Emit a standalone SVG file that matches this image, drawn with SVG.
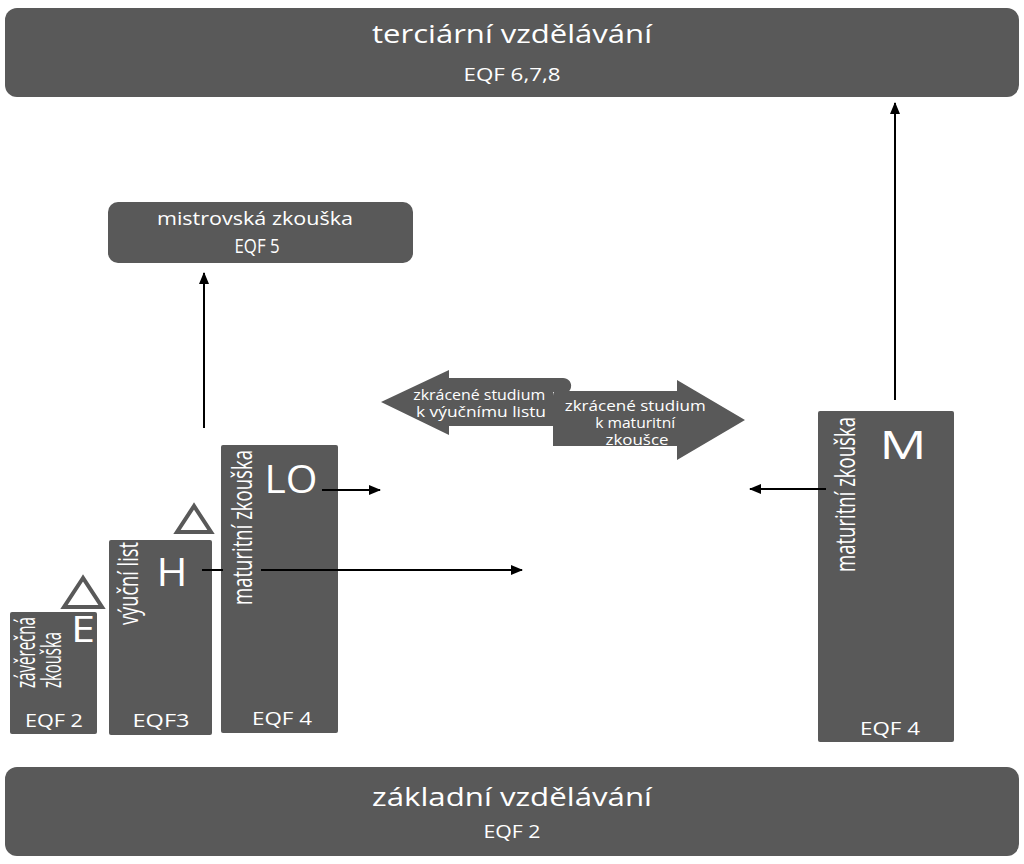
<svg xmlns="http://www.w3.org/2000/svg" width="1024" height="864" viewBox="0 0 1024 864">
<style>
.box{fill:#595959}
.t{fill:#ffffff;font-family:"Open Sans","Liberation Sans",sans-serif}
.c{text-anchor:middle}
.ln{stroke:#000;stroke-width:2;fill:none}
.tri{fill:#fff;stroke:#595959;stroke-width:4;stroke-linejoin:miter}
</style>
<defs>
<marker id="ah" markerWidth="12" markerHeight="10" refX="11" refY="5" orient="auto" markerUnits="userSpaceOnUse">
<path d="M0,0 L12,5 L0,10 Z" fill="#000"/>
</marker>
</defs>
<rect width="1024" height="864" fill="#fff"/>

<g id="terciarni">
<rect class="box" x="5" y="8" width="1014" height="89" rx="12"/>
<text class="t c" x="512" y="43" font-size="26" textLength="280" lengthAdjust="spacingAndGlyphs">terciární vzdělávání</text>
<text class="t c" x="512" y="81" font-size="19" textLength="97" lengthAdjust="spacingAndGlyphs">EQF 6,7,8</text>
</g>

<g id="zakladni">
<rect class="box" x="5" y="767" width="1014" height="89" rx="12"/>
<text class="t c" x="512" y="806" font-size="26" textLength="280" lengthAdjust="spacingAndGlyphs">základní vzdělávání</text>
<text class="t c" x="512" y="838" font-size="19" textLength="57" lengthAdjust="spacingAndGlyphs">EQF 2</text>
</g>

<g id="mistrovska">
<rect class="box" x="108" y="202" width="305" height="61" rx="10"/>
<text class="t c" x="255" y="225" font-size="19" textLength="196" lengthAdjust="spacingAndGlyphs">mistrovská zkouška</text>
<text class="t c" x="257" y="253" font-size="20" textLength="45" lengthAdjust="spacingAndGlyphs">EQF 5</text>
</g>

<g id="E">
<rect class="box" x="10" y="612" width="87" height="122" rx="2"/>
<polygon class="tri" points="83,578 64,607 102,607"/>
<text class="t c" x="83" y="642" font-size="36" textLength="24" lengthAdjust="spacingAndGlyphs">E</text>
<text class="t" transform="translate(35,688) rotate(-90)" font-size="28" textLength="71" lengthAdjust="spacingAndGlyphs">závěrečná</text>
<text class="t" transform="translate(61,688) rotate(-90)" font-size="28" textLength="56" lengthAdjust="spacingAndGlyphs">zkouška</text>
<text class="t c" x="54" y="727" font-size="19" textLength="58" lengthAdjust="spacingAndGlyphs">EQF 2</text>
</g>

<g id="H">
<rect class="box" x="109" y="540" width="103" height="195" rx="2"/>
<polygon class="tri" points="194,506 177,532 211,532"/>
<text class="t c" x="172" y="586" font-size="39" textLength="31" lengthAdjust="spacingAndGlyphs">H</text>
<text class="t" transform="translate(138,625) rotate(-90)" font-size="28" textLength="83" lengthAdjust="spacingAndGlyphs">výuční list</text>
<text class="t c" x="161" y="727" font-size="19" textLength="57" lengthAdjust="spacingAndGlyphs">EQF3</text>
</g>

<g id="LO">
<rect class="box" x="221" y="445" width="117" height="288" rx="2"/>
<text class="t c" x="291" y="493" font-size="39" textLength="53" lengthAdjust="spacingAndGlyphs">LO</text>
<text class="t" transform="translate(252,605) rotate(-90)" font-size="28" textLength="155" lengthAdjust="spacingAndGlyphs">maturitní zkouška</text>
<text class="t c" x="282" y="725" font-size="19" textLength="60" lengthAdjust="spacingAndGlyphs">EQF 4</text>
</g>

<g id="M">
<rect class="box" x="818" y="411" width="136" height="331" rx="2"/>
<text class="t c" x="903" y="459" font-size="38" textLength="47" lengthAdjust="spacingAndGlyphs">M</text>
<text class="t" transform="translate(855,572) rotate(-90)" font-size="28" textLength="155" lengthAdjust="spacingAndGlyphs">maturitní zkouška</text>
<text class="t c" x="890" y="735" font-size="19" textLength="60" lengthAdjust="spacingAndGlyphs">EQF 4</text>
</g>

<g id="zkracene">
<path class="box" d="M381,402 L449,370 L449,378 L563,378 C570,378 573,385 570,390 C568,393 563,393 558,392 L553,392 L553,426 L449,426 L449,435 Z"/>
<path class="box" d="M553,396 C553,391 556,389 560,391 L677,391 L677,380 L745,420 L677,460 L677,446 L553,446 Z"/>
<text class="t c" font-size="14">
<tspan x="481" y="400" textLength="132" lengthAdjust="spacingAndGlyphs">zkrácené studium</tspan>
<tspan x="481" y="417" textLength="130" lengthAdjust="spacingAndGlyphs">k výučnímu listu</tspan>
</text>
<text class="t c" font-size="14">
<tspan x="637" y="411" textLength="141" lengthAdjust="spacingAndGlyphs">zkrácené studium</tspan>
<tspan x="637" y="428" textLength="80" lengthAdjust="spacingAndGlyphs">k maturitní</tspan>
<tspan x="637" y="445" textLength="63" lengthAdjust="spacingAndGlyphs">zkoušce</tspan>
</text>
</g>

<g id="connectors">
<line class="ln" x1="204" y1="428" x2="204" y2="273" marker-end="url(#ah)"/>
<line class="ln" x1="895" y1="400" x2="895" y2="103" marker-end="url(#ah)"/>
<line class="ln" x1="322" y1="490" x2="380" y2="490" marker-end="url(#ah)"/>
<line class="ln" x1="826" y1="489" x2="750" y2="489" marker-end="url(#ah)"/>
<line class="ln" x1="202" y1="570" x2="223" y2="570"/>
<line class="ln" x1="261" y1="570" x2="522" y2="570" marker-end="url(#ah)"/>
</g>
</svg>
